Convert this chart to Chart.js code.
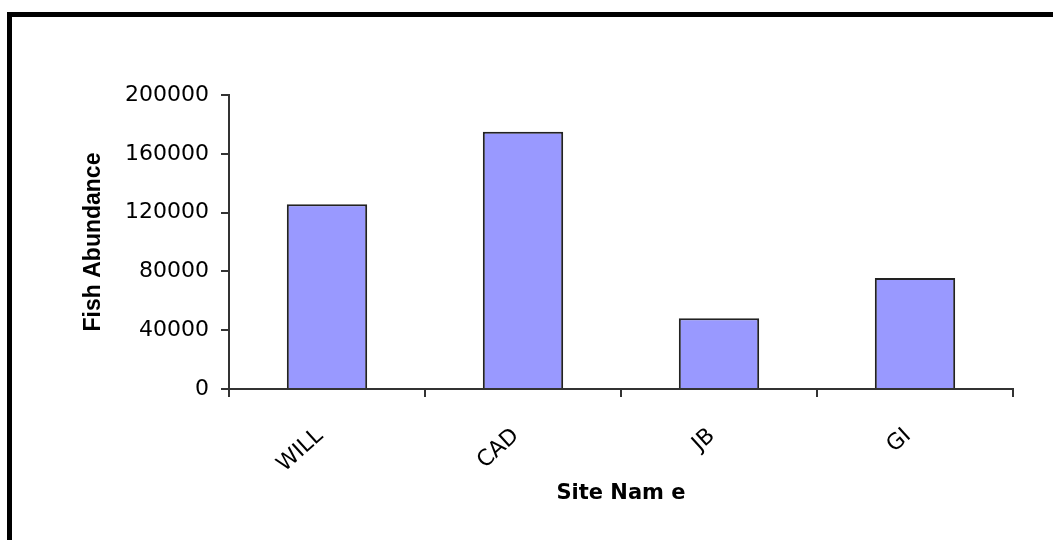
<!DOCTYPE html>
<html>
<head>
<meta charset="utf-8">
<script src="https://cdn.jsdelivr.net/npm/chart.js@4"></script>
<style>
  body { margin: 0; background: #fff; }
  #wrap { position: relative; width: 1053px; height: 540px; overflow: hidden; }
  #frame {
    position: absolute; left: 7px; top: 12px; width: 1100px; height: 600px;
    border-top: 5px solid #000; border-left: 5px solid #000;
  }
  canvas { position: absolute; left: 0; top: 0; }
</style>
</head>
<body>
<div id="wrap">
  <div id="frame"></div>
  <canvas id="myChart" width="1053" height="540"></canvas>
</div>
<script>
"use strict";

const categories = ["WILL", "CAD", "JB", "GI"];
const abundance = [125600, 175000, 48100, 75500];
const yTicks = [0, 40000, 80000, 120000, 160000, 200000];

const axisColor = "#333";

new Chart("myChart", {
  type: "bar",
  data: {
    labels: categories,
    datasets: [
      {
        data: abundance,
        backgroundColor: "#9999ff",
        borderColor: "#222",
        borderWidth: 2,
        barPercentage: 0.41,
        categoryPercentage: 1,
      },
    ],
  },
  options: {
    responsive: false,
    animation: false,
    layout: { padding: { left: 70, right: 40, top: 95, bottom: 0 } },
    plugins: { legend: { display: false }, tooltip: { enabled: false } },
    scales: {
      x: {
        grid: { drawOnChartArea: false, tickLength: 8, color: axisColor, lineWidth: 2 },
        border: { color: axisColor, width: 2 },
        ticks: {
          color: "#000",
          font: { family: "DejaVu Sans", size: 22 },
          minRotation: 42,
          maxRotation: 42,
          padding: 26,
          labelOffset: -7,
        },
        title: {
          display: true,
          text: "Site Nam e",
          color: "#000",
          font: { family: "DejaVu Sans", size: 21, weight: "bold" },
          padding: { top: 0, bottom: 34 },
        },
        afterFit(scale) {
          scale.height = 151;
        },
      },
      y: {
        min: 0,
        max: 200000,
        afterBuildTicks(scale) {
          scale.ticks = yTicks.map((v) => ({ value: v }));
        },
        grid: { drawOnChartArea: false, tickLength: 8, color: axisColor, lineWidth: 2 },
        border: { color: axisColor, width: 2 },
        ticks: {
          color: "#000",
          font: { family: "DejaVu Sans", size: 22 },
          padding: 12,
          callback: (v) => String(v),
        },
        title: {
          display: true,
          text: "Fish Abundance",
          color: "#000",
          font: { family: "Liberation Sans", size: 23, weight: "bold" },
          padding: { top: 10, bottom: 0 },
        },
        afterFit(scale) {
          scale.width = 159;
        },
      },
    },
  },
});
</script>
</body>
</html>
